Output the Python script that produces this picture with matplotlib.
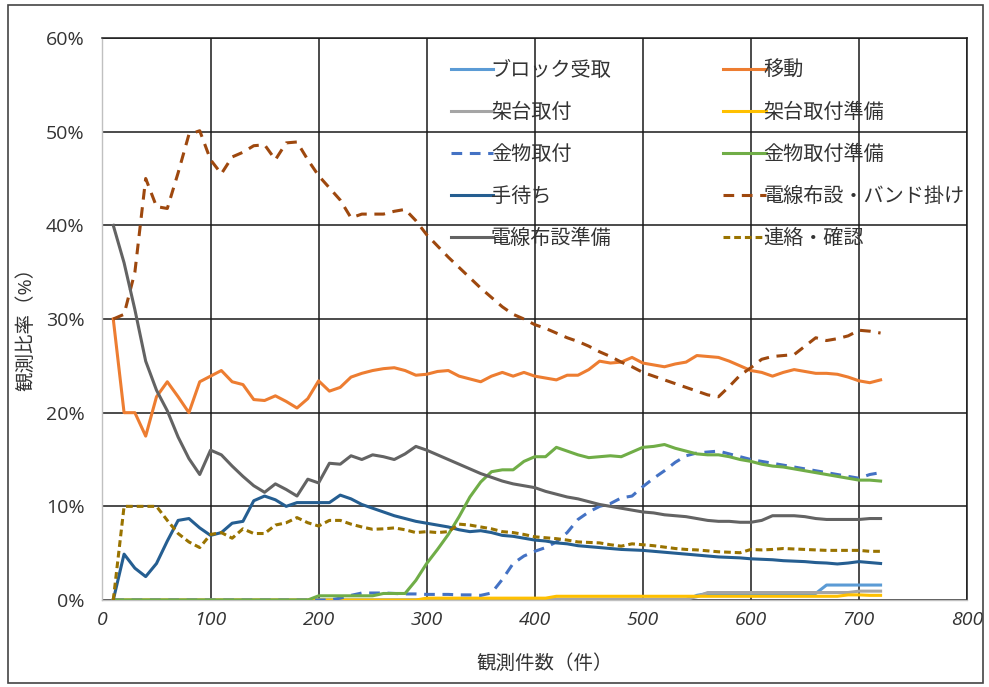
import matplotlib
matplotlib.use("Agg")
import matplotlib.pyplot as plt
from matplotlib.patches import Rectangle
from matplotlib.ticker import MultipleLocator, FuncFormatter

plt.rcParams['font.family'] = ['Open Sans', 'Noto Sans CJK JP', 'DejaVu Sans']

# observation count (件)
count = [10, 20, 30, 40, 50, 60, 70, 80, 90, 100,
         110, 120, 130, 140, 150, 160, 170, 180, 190, 200,
         210, 220, 230, 240, 250, 260, 270, 280, 290, 300,
         310, 320, 330, 340, 350, 360, 370, 380, 390, 400,
         410, 420, 430, 440, 450, 460, 470, 480, 490, 500,
         510, 520, 530, 540, 550, 560, 570, 580, 590, 600,
         610, 620, 630, 640, 650, 660, 670, 680, 690, 700,
         710, 720]

# observation ratio (%) per work element
block_recv = [0, 0, 0, 0, 0, 0, 0, 0, 0, 0,
              0, 0, 0, 0, 0, 0, 0, 0, 0, 0,
              0, 0, 0, 0, 0, 0, 0, 0, 0, 0,
              0, 0, 0, 0, 0, 0, 0, 0, 0, 0,
              0, 0, 0, 0, 0, 0, 0, 0, 0, 0,
              0, 0, 0, 0, 0.5, 0.7, 0.7, 0.7, 0.7, 0.7,
              0.7, 0.7, 0.7, 0.7, 0.7, 0.7, 1.6, 1.6, 1.6, 1.6,
              1.6, 1.6]

move = [30.0, 20.0, 20.0, 17.5, 21.7, 23.3, 21.7, 20.0, 23.3, 23.9,
        24.5, 23.3, 23.0, 21.4, 21.3, 21.8, 21.2, 20.5, 21.5, 23.4,
        22.3, 22.7, 23.8, 24.2, 24.5, 24.7, 24.8, 24.5, 24.0, 24.1,
        24.4, 24.5, 23.9, 23.6, 23.3, 23.9, 24.3, 23.9, 24.3, 23.9,
        23.7, 23.5, 24.0, 24.0, 24.6, 25.5, 25.3, 25.4, 25.9, 25.3,
        25.1, 24.9, 25.2, 25.4, 26.1, 26.0, 25.9, 25.5, 25.0, 24.5,
        24.3, 23.9, 24.3, 24.6, 24.4, 24.2, 24.2, 24.1, 23.8, 23.4,
        23.2, 23.5]

frame_mount = [0, 0, 0, 0, 0, 0, 0, 0, 0, 0,
               0, 0, 0, 0, 0, 0, 0, 0, 0, 0,
               0, 0, 0, 0, 0, 0, 0, 0, 0, 0.1,
               0.1, 0.1, 0.1, 0.1, 0.1, 0.1, 0.1, 0.1, 0.1, 0.1,
               0.1, 0.1, 0.1, 0.1, 0.1, 0.1, 0.1, 0.1, 0.1, 0.1,
               0.1, 0.1, 0.1, 0.1, 0.35, 0.8, 0.8, 0.8, 0.8, 0.8,
               0.8, 0.8, 0.8, 0.8, 0.8, 0.8, 0.8, 0.8, 0.8, 0.95,
               0.95, 0.95]

frame_prep = [0, 0, 0, 0, 0, 0, 0, 0, 0, 0,
              0, 0, 0, 0, 0, 0, 0, 0, 0, 0,
              0, 0, 0, 0, 0, 0, 0, 0, 0, 0.2,
              0.2, 0.2, 0.2, 0.2, 0.2, 0.2, 0.2, 0.2, 0.2, 0.2,
              0.2, 0.4, 0.4, 0.4, 0.4, 0.4, 0.4, 0.4, 0.4, 0.4,
              0.4, 0.4, 0.4, 0.4, 0.4, 0.4, 0.4, 0.4, 0.4, 0.4,
              0.4, 0.4, 0.4, 0.4, 0.4, 0.4, 0.4, 0.4, 0.55, 0.55,
              0.5, 0.5]

fitting = [0, 0, 0, 0, 0, 0, 0, 0, 0, 0,
           0, 0, 0, 0, 0, 0, 0, 0, 0, 0,
           0, 0.2, 0.5, 0.75, 0.75, 0.75, 0.7, 0.65, 0.65, 0.6,
           0.6, 0.6, 0.55, 0.55, 0.5, 0.75, 2.2, 3.9, 4.7, 5.2,
           5.6, 6.2, 7.2, 8.6, 9.4, 10.0, 10.3, 10.9, 11.1, 12.1,
           13.0, 13.8, 14.7, 15.4, 15.7, 15.8, 15.9, 15.6, 15.3, 15.0,
           14.8, 14.6, 14.4, 14.2, 14.0, 13.8, 13.6, 13.4, 13.2, 13.0,
           13.4, 13.6]

fitting_prep = [0, 0, 0, 0, 0, 0, 0, 0, 0, 0,
                0, 0, 0, 0, 0, 0, 0, 0, 0, 0.45,
                0.45, 0.45, 0.45, 0.45, 0.45, 0.7, 0.7, 0.7, 2.1, 3.9,
                5.4, 7.0, 8.9, 11.0, 12.6, 13.7, 13.9, 13.9, 14.8, 15.3,
                15.3, 16.3, 15.9, 15.5, 15.2, 15.3, 15.4, 15.3, 15.8, 16.3,
                16.4, 16.6, 16.2, 15.9, 15.6, 15.5, 15.5, 15.3, 15.0, 14.8,
                14.5, 14.3, 14.2, 14.0, 13.8, 13.6, 13.4, 13.2, 13.0, 12.8,
                12.8, 12.7]

waiting = [0, 4.9, 3.4, 2.5, 3.9, 6.3, 8.5, 8.7, 7.7, 6.9,
           7.2, 8.2, 8.4, 10.6, 11.1, 10.7, 10.0, 10.4, 10.4, 10.4,
           10.4, 11.2, 10.8, 10.2, 9.8, 9.4, 9.0, 8.7, 8.4, 8.2,
           8.0, 7.8, 7.5, 7.3, 7.4, 7.2, 6.9, 6.8, 6.6, 6.4,
           6.3, 6.1, 6.0, 5.8, 5.7, 5.6, 5.5, 5.4, 5.35, 5.3,
           5.2, 5.1, 5.0, 4.9, 4.8, 4.7, 4.6, 4.55, 4.5, 4.4,
           4.35, 4.3, 4.2, 4.15, 4.1, 4.0, 3.95, 3.85, 3.95, 4.1,
           4.0, 3.9]

wiring_band = [30.0, 30.5, 35.0, 45.0, 42.0, 41.8, 45.6, 49.7, 50.1, 47.0,
               45.5, 47.3, 47.8, 48.5, 48.6, 47.0, 48.8, 48.9, 47.0, 45.3,
               44.0, 42.7, 40.8, 41.2, 41.2, 41.2, 41.5, 41.7, 40.5, 39.0,
               37.8, 36.6, 35.5, 34.4, 33.3, 32.3, 31.3, 30.5, 30.0, 29.4,
               29.0, 28.5, 28.0, 27.6, 27.1, 26.5, 26.0, 25.4, 24.9, 24.3,
               23.9, 23.5, 23.1, 22.7, 22.3, 21.9, 21.7, 22.8, 24.0, 24.8,
               25.7, 26.0, 26.1, 26.2, 27.1, 28.0, 27.7, 27.9, 28.2, 28.8,
               28.7, 28.5]

wiring_prep = [40.0, 36.0, 31.0, 25.5, 22.4, 20.2, 17.4, 15.1, 13.4, 16.0,
               15.5, 14.3, 13.2, 12.2, 11.5, 12.4, 11.8, 11.1, 12.9, 12.5,
               14.6, 14.5, 15.4, 15.0, 15.5, 15.3, 15.0, 15.6, 16.4, 16.0,
               15.5, 15.0, 14.5, 14.0, 13.5, 13.1, 12.7, 12.4, 12.2, 12.0,
               11.6, 11.3, 11.0, 10.8, 10.5, 10.2, 10.0, 9.8, 9.6, 9.4,
               9.3, 9.1, 9.0, 8.9, 8.7, 8.5, 8.4, 8.4, 8.3, 8.3,
               8.5, 9.0, 9.0, 9.0, 8.9, 8.7, 8.6, 8.6, 8.6, 8.6,
               8.7, 8.7]

contact = [0, 10.0, 10.0, 10.0, 10.0, 8.5, 7.1, 6.2, 5.6, 7.0,
           7.2, 6.6, 7.6, 7.1, 7.1, 8.0, 8.25, 8.8, 8.25, 7.9,
           8.5, 8.5, 8.1, 7.8, 7.55, 7.6, 7.7, 7.5, 7.2, 7.3,
           7.2, 7.3, 8.1, 8.0, 7.8, 7.6, 7.3, 7.2, 7.0, 6.75,
           6.65, 6.55, 6.4, 6.2, 6.15, 6.1, 5.9, 5.75, 6.0, 5.9,
           5.8, 5.65, 5.5, 5.4, 5.35, 5.25, 5.15, 5.1, 5.05, 5.4,
           5.35, 5.4, 5.5, 5.45, 5.4, 5.35, 5.3, 5.3, 5.3, 5.3,
           5.2, 5.2]

series = [
    ("ブロック受取", block_recv, "#5B9BD5", "-"),
    ("移動", move, "#ED7D31", "-"),
    ("架台取付", frame_mount, "#A5A5A5", "-"),
    ("架台取付準備", frame_prep, "#FFC000", "-"),
    ("金物取付", fitting, "#4472C4", (0, (3.5, 2.5))),
    ("金物取付準備", fitting_prep, "#70AD47", "-"),
    ("手待ち", waiting, "#255E91", "-"),
    ("電線布設・バンド掛け", wiring_band, "#9E480E", (0, (3.5, 2.5))),
    ("電線布設準備", wiring_prep, "#636363", "-"),
    ("連絡・確認", contact, "#997300", (0, (2.2, 1.3))),
]

fig = plt.figure(figsize=(9.89, 6.87), dpi=100)
ax = fig.add_axes([0.1036, 0.1266, 0.8742, 0.8181])

handles = {}
for name, vals, color, ls in series:
    line, = ax.plot(count, vals, color=color, linestyle=ls, linewidth=2.2,
                    label=name, solid_joinstyle='round', zorder=3)
    handles[name] = line

ax.set_xlim(0, 800)
ax.set_ylim(0, 60)
ax.xaxis.set_major_locator(MultipleLocator(100))
ax.yaxis.set_major_locator(MultipleLocator(10))
ax.yaxis.set_major_formatter(FuncFormatter(lambda v, p: f"{v:.0f}%"))
ax.grid(True, color="#1a1a1a", linewidth=1.1, zorder=1)
ax.set_axisbelow(True)
ax.tick_params(length=0, labelsize=14, colors="#333333")
ax.tick_params(axis='x', pad=8)
ax.tick_params(axis='y', pad=13)
for t in ax.get_xticklabels():
    t.set_fontstyle('italic')

for s in ("left", "bottom"):
    ax.spines[s].set_color("#c0c0c0")
    ax.spines[s].set_linewidth(1.0)
for s in ("top", "right"):
    ax.spines[s].set_color("#1a1a1a")
    ax.spines[s].set_linewidth(1.1)

ax.set_xlabel("観測件数（件）", fontsize=14, color="#333333", labelpad=18)
ax.xaxis.label.set_x(0.512)
ax.set_ylabel("観測比率（%）", fontsize=14, color="#333333", labelpad=7.5)
ax.yaxis.label.set_y(0.49)

order = ["ブロック受取", "架台取付", "金物取付", "手待ち", "電線布設準備",
         "移動", "架台取付準備", "金物取付準備", "電線布設・バンド掛け", "連絡・確認"]
leg = ax.legend([handles[n] for n in order], order, ncol=2, frameon=False,
                loc="upper left", bbox_to_anchor=(0.391, 0.977),
                fontsize=14.5, handlelength=2.1, handletextpad=-0.1,
                columnspacing=5.55, labelspacing=1.09, borderpad=0)
for t in leg.get_texts():
    t.set_color("#333333")

fig.add_artist(Rectangle((0.008, 0.006), 0.986, 0.986, transform=fig.transFigure,
                         fill=False, edgecolor="#444444", linewidth=1.2))

fig.savefig("out.png", dpi=100)
